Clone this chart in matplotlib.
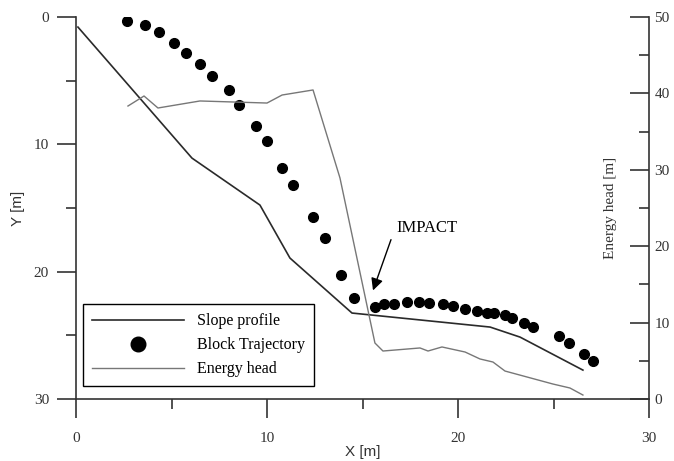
import matplotlib
matplotlib.use("Agg")
import matplotlib.pyplot as plt
from matplotlib.ticker import MultipleLocator

# slope profile (x, y) in m
slope_x = [0.1, 6.07, 9.63, 11.2, 14.45, 21.68, 23.25, 26.54]
slope_y = [0.79, 11.08, 14.77, 18.93, 23.25, 24.35, 25.14, 27.73]

# block trajectory points
traj_x = [2.67, 3.61, 4.35, 5.13, 5.76, 6.49, 7.12, 8.01, 8.53, 9.42, 10.0,
          10.79, 11.36, 12.41, 13.04, 13.87, 14.55, 15.65, 16.13, 16.65,
          17.33, 17.96, 18.48, 19.21, 19.74, 20.37, 20.99, 21.52, 21.88,
          22.46, 22.83, 23.46, 23.93, 25.29, 25.81, 26.6, 27.07]
traj_y = [0.31, 0.63, 1.18, 2.04, 2.83, 3.69, 4.63, 5.73, 6.91, 8.56, 9.74,
          11.86, 13.2, 15.71, 17.36, 20.27, 22.07, 22.78, 22.55, 22.55,
          22.39, 22.39, 22.47, 22.55, 22.7, 22.94, 23.1, 23.25, 23.25,
          23.41, 23.64, 24.04, 24.35, 25.06, 25.61, 26.47, 27.02]

# energy head (x in m, head in m, right axis)
energy_x = [2.72, 3.56, 4.29, 6.49, 10.0, 10.79, 12.41, 13.82, 15.65, 16.07,
            18.01, 18.43, 19.16, 20.37, 21.15, 21.83, 22.46, 24.97, 25.86, 26.54]
energy_h = [38.35, 39.66, 38.09, 39.01, 38.74, 39.79, 40.45, 28.93, 7.33, 6.28,
            6.68, 6.28, 6.81, 6.15, 5.24, 4.84, 3.66, 1.96, 1.44, 0.52]

serif = ["Liberation Serif", "DejaVu Serif"]
sans = ["Liberation Sans", "DejaVu Sans"]
axcol = "#333333"

fig = plt.figure(figsize=(6.74, 4.61), dpi=100)
ax = fig.add_axes([0.1128, 0.1345, 0.8501, 0.8286])
ax2 = ax.twinx()

l1, = ax.plot(slope_x, slope_y, color="#2a2a2a", lw=1.2, label="Slope profile")
d1, = ax.plot(traj_x, traj_y, "o", color="black", ms=7, ls="none",
              label="Block Trajectory")
l2, = ax2.plot(energy_x, energy_h, color="#777777", lw=1.0, label="Energy head")

ax.set_xlim(0, 30)
ax.set_ylim(30, 0)
ax2.set_ylim(0, 50)

ax.xaxis.set_major_locator(MultipleLocator(10))
ax.xaxis.set_minor_locator(MultipleLocator(5))
ax.yaxis.set_major_locator(MultipleLocator(10))
ax.yaxis.set_minor_locator(MultipleLocator(5))
ax2.yaxis.set_major_locator(MultipleLocator(10))
ax2.yaxis.set_minor_locator(MultipleLocator(5))

for a in (ax, ax2):
    a.spines["top"].set_visible(False)
    for s in a.spines.values():
        s.set_color(axcol)
        s.set_linewidth(1.2)
ax.spines["right"].set_visible(False)
ax2.spines["left"].set_visible(False)
ax2.spines["bottom"].set_visible(False)

ax.tick_params(which="major", direction="out", length=13.5, width=1.2,
               color=axcol, labelsize=11, labelcolor=axcol, pad=6)
ax.tick_params(axis="x", which="major", pad=10)
ax.tick_params(which="minor", direction="out", length=7, width=1.2, color=axcol)
ax2.tick_params(which="major", direction="in", length=13.5, width=1.2,
                color=axcol, labelsize=11, labelcolor=axcol, pad=4)
ax2.tick_params(which="minor", direction="in", length=7, width=1.2, color=axcol)

for lab in ax.get_xticklabels() + ax.get_yticklabels() + ax2.get_yticklabels():
    lab.set_family(serif)

ax.set_xlabel("X [m]", family=sans, fontsize=11, color=axcol, labelpad=0)
ax.set_ylabel("Y [m]", family=sans, fontsize=11, color=axcol, labelpad=6)
ax2.text(0.932, 0.5, "Energy head [m]", transform=ax2.transAxes, rotation=90,
         ha="center", va="center", family=serif, fontsize=11, color=axcol)

ax.text(16.8, 16.57, "IMPACT", family=serif, fontsize=12, ha="left", va="center")
ax.annotate("", xy=(15.5, 21.68), xytext=(16.54, 17.28),
            arrowprops=dict(arrowstyle="-|>", color="black", lw=1,
                            mutation_scale=18))

leg = ax2.legend([l1, d1, l2], ["Slope profile", "Block Trajectory", "Energy head"],
                 loc="lower left", bbox_to_anchor=(0.012, 0.034),
                 borderaxespad=0, fancybox=False, edgecolor="black",
                 framealpha=1, markerscale=1.5, handlelength=5.8,
                 prop={"family": serif, "size": 11.5}, labelspacing=0.5,
                 borderpad=0.55)
leg.get_frame().set_linewidth(1.0)

fig.savefig("out.png", dpi=100)
